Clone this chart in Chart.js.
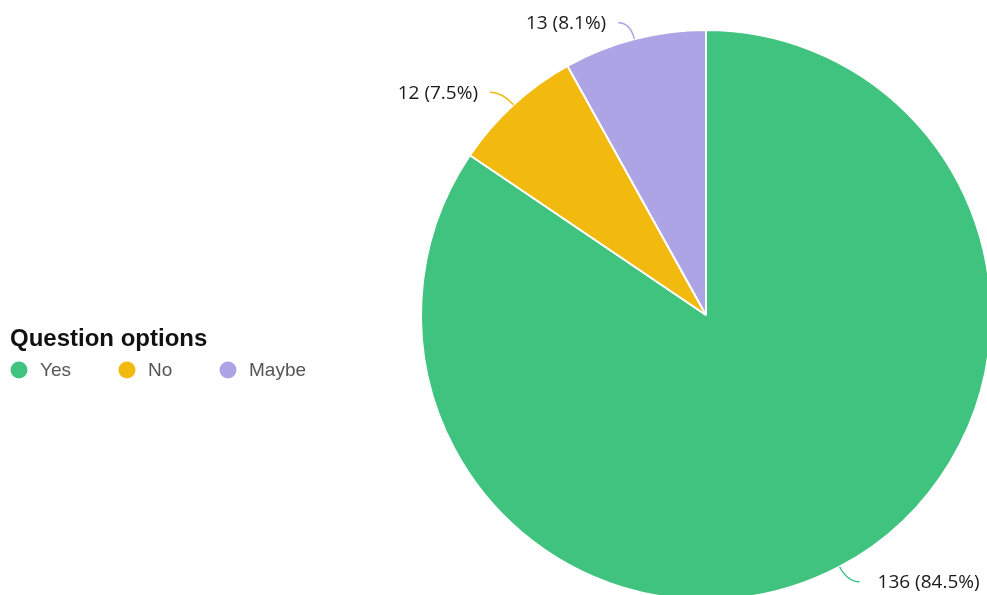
<!DOCTYPE html>
<html>
<head>
<meta charset="utf-8">
<script src="https://cdn.jsdelivr.net/npm/chart.js@4"></script>
<style>
  html, body { margin: 0; padding: 0; background: #fff; overflow: hidden; width: 987px; height: 595px; }
  #wrap { position: absolute; left: 0; top: 0; width: 1000px; height: 620px; }
</style>
</head>
<body>
<div id="wrap"><canvas id="myChart"></canvas></div>
<script>
const labels = ['Yes', 'No', 'Maybe'];
const counts = [136, 12, 13];
const colors = ['#41C380', '#F2B90F', '#ADA4E5'];
const legendTitle = 'Question options';

const ctx = document.getElementById('myChart').getContext('2d');

// leader lines + "n (p%)" labels outside the slices
const outLabels = {
  id: 'outLabels',
  afterDatasetsDraw(chart) {
    const c = chart.ctx;
    const meta = chart.getDatasetMeta(0);
    const data = chart.data.datasets[0].data;
    const total = data.reduce((a, b) => a + b, 0);
    meta.data.forEach((arc, i) => {
      const mid = (arc.startAngle + arc.endAngle) / 2;
      const r = arc.outerRadius;
      const x0 = arc.x + Math.cos(mid) * r;
      const y0 = arc.y + Math.sin(mid) * r;
      const x1 = arc.x + Math.cos(mid) * (r + 17);
      const y1 = arc.y + Math.sin(mid) * (r + 17);
      const dir = Math.cos(mid) >= 0 ? 1 : -1;
      const x2 = x1 + dir * 12;
      c.save();
      c.strokeStyle = colors[i];
      c.lineWidth = 1.5;
      c.beginPath();
      c.moveTo(x0, y0);
      c.quadraticCurveTo(x1, y1, x2, y1);
      c.stroke();
      const pct = (data[i] / total * 100).toFixed(1);
      c.fillStyle = '#1a1a1a';
      c.font = '500 19px "Open Sans", "Noto Sans", sans-serif';
      c.textBaseline = 'middle';
      c.textAlign = dir > 0 ? 'left' : 'right';
      c.fillText(data[i] + ' (' + pct + '%)', x2 + dir * (dir > 0 ? 18 : 12), y1 + 1);
      c.restore();
    });
  }
};

// horizontal legend with title at left, clipped like the original
const sideLegend = {
  id: 'sideLegend',
  afterDraw(chart) {
    const c = chart.ctx;
    c.save();
    c.beginPath();
    c.rect(0, 0, 308, 595);
    c.clip();
    c.fillStyle = '#111';
    c.font = 'bold 24px "Liberation Sans", Arial, sans-serif';
    c.textBaseline = 'alphabetic';
    c.textAlign = 'left';
    c.fillText(legendTitle, 10, 346);
    const xs = [19, 127, 228];
    c.font = '19px "Liberation Sans", Arial, sans-serif';
    c.textBaseline = 'middle';
    labels.forEach((l, i) => {
      c.fillStyle = colors[i];
      c.beginPath();
      c.arc(xs[i], 370, 8.5, 0, Math.PI * 2);
      c.fill();
      c.fillStyle = '#555';
      c.fillText(l, xs[i] + 21, 371);
    });
    c.restore();
  }
};

var chartsData = {
  type: 'pie',
  data: {
    labels: labels,
    datasets: [{
      data: counts,
      backgroundColor: colors,
      borderColor: '#ffffff',
      borderWidth: 2
    }]
  },
  options: {
    responsive: true,
    maintainAspectRatio: false,
    animation: false,
    layout: { padding: { left: 420, top: 29, right: 8, bottom: 19 } },
    plugins: {
      legend: { display: false },
      tooltip: { enabled: false }
    }
  },
  plugins: [outLabels, sideLegend]
};

const myChart = new Chart(ctx, chartsData);
</script>
</body>
</html>
